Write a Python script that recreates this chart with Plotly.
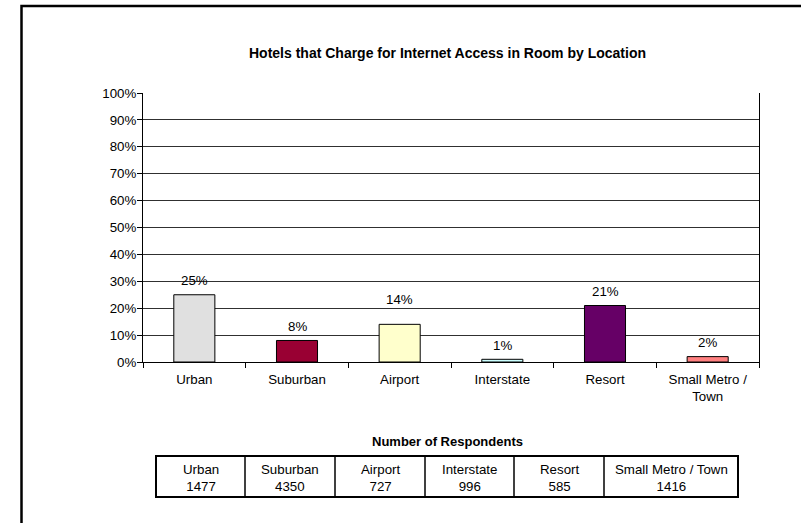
import plotly.graph_objects as go

# Chart data
locations = ["Urban", "Suburban", "Airport", "Interstate", "Resort", "Small Metro /<br>Town"]
table_names = ["Urban", "Suburban", "Airport", "Interstate", "Resort", "Small Metro / Town"]
pct_charging = [25, 8, 14, 1, 21, 2]
respondents = [1477, 4350, 727, 996, 585, 1416]
bar_colors = ["#E0E0E0", "#990033", "#FFFFCC", "#CCFFFF", "#660066", "#FF8080"]
y_ticks = list(range(0, 101, 10))

FONT = "Liberation Sans, Arial, sans-serif"
FS = 13.3
W, H = 801, 523
L, R, T, B = 143, 42, 93, 161
PW, PH = W - L - R, H - T - B


def px_x(px):
    return (px - L) / PW


def px_y(py):
    return (H - B - py) / PH


fig = go.Figure()
fig.add_trace(go.Bar(
    x=locations,
    y=pct_charging,
    marker=dict(color=bar_colors, line=dict(color="black", width=1)),
    width=0.4,
    hoverinfo="skip",
))

shapes = []
annotations = []

# Value labels above the bars (the Airport label sits a little higher)
for cat, v in zip(locations, pct_charging):
    lift = 25 if cat == "Airport" else 14
    annotations.append(dict(x=cat, y=v, xref="x", yref="y", text=f"{v}%",
                            showarrow=False, yshift=lift, yanchor="middle",
                            font=dict(family=FONT, size=FS, color="black")))

# Outer chart frame: only its top and left edges fall inside the page
fl, ft = px_x(21.5), px_y(6)
fr, fb = px_x(W + 10), px_y(H + 10)
shapes.append(dict(type="path", xref="paper", yref="paper",
                   path=f"M {fl},{fb} L {fl},{ft} L {fr},{ft}",
                   line=dict(color="black", width=2.5)))

# Respondents table
col_edges = [156, 245, 335, 425, 514, 604, 738]
tbl_top, tbl_bot = 456, 497
shapes.append(dict(type="rect", xref="paper", yref="paper",
                   x0=px_x(col_edges[0]), x1=px_x(col_edges[-1]),
                   y0=px_y(tbl_bot), y1=px_y(tbl_top),
                   line=dict(color="black", width=2), fillcolor="rgba(0,0,0,0)"))
for e in col_edges[1:-1]:
    shapes.append(dict(type="line", xref="paper", yref="paper",
                       x0=px_x(e), x1=px_x(e), y0=px_y(tbl_bot), y1=px_y(tbl_top),
                       line=dict(color="black", width=1.5)))
for i, (name, n) in enumerate(zip(table_names, respondents)):
    cx = (col_edges[i] + col_edges[i + 1]) / 2
    annotations.append(dict(xref="paper", yref="paper", x=px_x(cx), y=px_y(478),
                            text=f"{name}<br>{n}", showarrow=False,
                            font=dict(family=FONT, size=FS, color="black"),
                            xanchor="center", yanchor="middle", align="center"))
annotations.append(dict(xref="paper", yref="paper",
                        x=px_x((col_edges[0] + col_edges[-1]) / 2), y=px_y(441),
                        text="<b>Number of Respondents</b>", showarrow=False,
                        font=dict(family=FONT, size=13, color="black"),
                        xanchor="center", yanchor="middle"))

# Chart title
annotations.append(dict(xref="paper", yref="paper", x=px_x(447), y=px_y(53),
                        text="<b>Hotels that Charge for Internet Access in Room by Location</b>",
                        showarrow=False, font=dict(family=FONT, size=14, color="black"),
                        xanchor="center", yanchor="middle"))

fig.update_layout(
    width=W, height=H,
    margin=dict(l=L, r=R, t=T, b=B, pad=0),
    paper_bgcolor="white", plot_bgcolor="white",
    showlegend=False,
    shapes=shapes,
    annotations=annotations,
    font=dict(family=FONT, size=FS, color="black"),
)
fig.update_xaxes(
    type="category",
    tickson="boundaries",
    ticks="outside", ticklen=5, tickcolor="black", tickwidth=1,
    ticklabelstandoff=5,
    showline=True, linecolor="black", linewidth=1, mirror=False,
    showgrid=False,
    tickfont=dict(family=FONT, size=FS, color="black"),
    fixedrange=True,
)
fig.update_yaxes(
    range=[0, 100],
    tickvals=y_ticks,
    ticktext=[f"{v}%" for v in y_ticks],
    ticks="outside", ticklen=5, tickcolor="black", tickwidth=1,
    ticklabelstandoff=-2,
    showline=True, linecolor="black", linewidth=1, mirror=True,
    showgrid=True, gridcolor="#303030", gridwidth=1,
    zeroline=False,
    tickfont=dict(family=FONT, size=FS, color="black"),
    fixedrange=True,
)

fig.write_html("out.html")
